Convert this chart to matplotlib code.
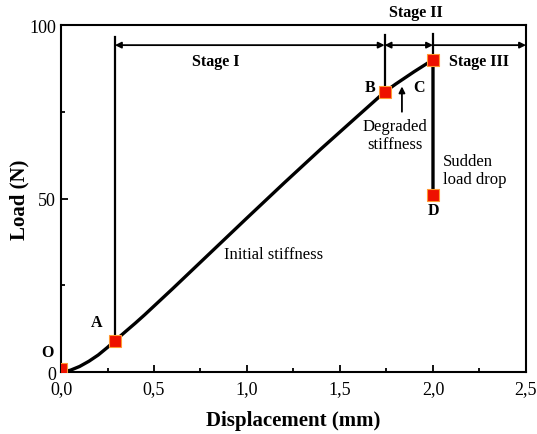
import numpy as np
import matplotlib.pyplot as plt
from matplotlib.ticker import MultipleLocator, FuncFormatter

plt.rcParams['font.family'] = ['Liberation Serif', 'DejaVu Serif']

# load-displacement curve
disp = [0.0, 0.05, 0.10, 0.15, 0.20, 0.25, 0.29, 0.35, 0.40, 0.45, 0.50, 0.60, 0.70, 0.80,
        1.00, 1.20, 1.40, 1.60, 1.74, 1.80, 1.90, 2.00, 2.00]
load = [0.0, 0.5, 1.6, 3.1, 4.9, 7.1, 9.0, 11.8, 14.1, 16.5, 19.0, 24.0, 29.1, 34.2,
        44.4, 54.5, 64.4, 74.0, 80.7, 83.0, 86.6, 90.0, 51.0]

# key points O, A, B, C, D
pt_names = ['O', 'A', 'B', 'C', 'D']
pt_x = [0.0, 0.29, 1.74, 2.0, 2.0]
pt_y = [1.0, 9.0, 80.7, 90.0, 51.0]

fig = plt.figure(figsize=(5.37, 4.35), dpi=100)
ax = fig.add_axes([0.1136, 0.1425, 0.8659, 0.7977])

ax.plot(disp, load, color='black', lw=2.4, zorder=2, solid_joinstyle='round')
ax.plot(pt_x, pt_y, 's', color='#ee1100', mec='#ff9933', mew=0.8, ms=8, zorder=4)

# stage boundaries
ax.plot([0.29, 0.29], [9.0, 96.5], color='black', lw=1.6, zorder=1)
ax.plot([1.74, 1.74], [80.7, 97.0], color='black', lw=1.6, zorder=1)
ax.plot([2.0, 2.0], [90.0, 97.5], color='black', lw=1.6, zorder=1)

ya = 94.2
akw = dict(arrowstyle='<|-|>', color='black', lw=1.3, mutation_scale=9, shrinkA=0, shrinkB=0)
ax.annotate('', xy=(1.74, ya), xytext=(0.29, ya), arrowprops=akw)
ax.annotate('', xy=(2.0, ya), xytext=(1.74, ya), arrowprops=akw)
ax.annotate('', xy=(2.5, ya), xytext=(2.0, ya),
            arrowprops=dict(arrowstyle='-|>', color='black', lw=1.3, mutation_scale=9, shrinkA=0, shrinkB=0))

bold = dict(fontsize=11.5, fontweight='bold')
ax.text(0.83, 89.5, 'Stage I', ha='center', va='center', **bold)
ax.text(1.91, 103.8, 'Stage II', ha='center', va='center', clip_on=False, **bold)
ax.text(2.25, 89.7, 'Stage III', ha='center', va='center', **bold)

ax.text(-0.075, 5.8, 'O', ha='center', va='center', **bold)
ax.text(0.19, 14.4, 'A', ha='center', va='center', **bold)
ax.text(1.66, 82.2, 'B', ha='center', va='center', **bold)
ax.text(1.925, 82.2, 'C', ha='center', va='center', **bold)
ax.text(2.0, 46.8, 'D', ha='center', va='center', **bold)

ax.annotate('', xy=(1.833, 82.3), xytext=(1.833, 75.0),
            arrowprops=dict(arrowstyle='-|>', color='black', lw=1.3, mutation_scale=9, shrinkA=0, shrinkB=0))
ax.text(1.795, 68.3, 'Degraded\nstiffness', ha='center', va='center', fontsize=12, linespacing=1.15)
ax.text(2.054, 58.2, 'Sudden\nload drop', ha='left', va='center', fontsize=12, linespacing=1.15)
ax.text(1.145, 34.0, 'Initial stiffness', ha='center', va='center', fontsize=12)

ax.set_xlim(0, 2.5)
ax.set_ylim(0, 100)
ax.xaxis.set_major_locator(MultipleLocator(0.5))
ax.xaxis.set_minor_locator(MultipleLocator(0.25))
ax.yaxis.set_major_locator(MultipleLocator(50))
ax.yaxis.set_minor_locator(MultipleLocator(25))
ax.xaxis.set_major_formatter(FuncFormatter(lambda v, p: ('%.1f' % v).replace('.', ',')))
ax.tick_params(which='both', direction='in', labelsize=13, width=1.3)
ax.tick_params(which='major', length=5)
ax.tick_params(which='minor', length=3)
ax.tick_params(axis='x', pad=6)
for s in ax.spines.values():
    s.set_linewidth(1.5)

ax.set_xlabel('Displacement (mm)', fontsize=15, fontweight='bold', labelpad=9)
ax.set_ylabel('Load (N)', fontsize=15, fontweight='bold', labelpad=0)

fig.savefig('out.png', dpi=100)
